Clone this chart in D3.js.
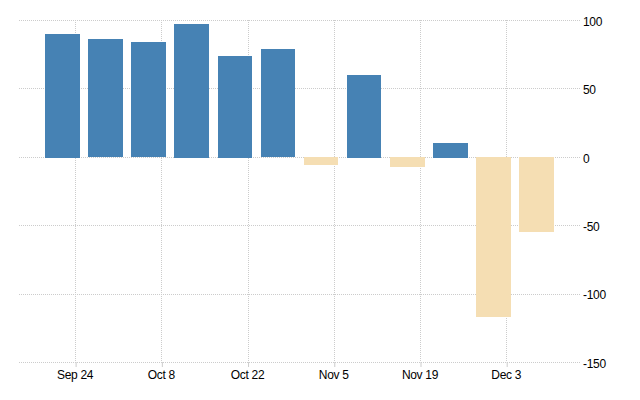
<!DOCTYPE html>
<html>
<head>
<meta charset="utf-8">
<script src="https://cdn.jsdelivr.net/npm/d3@7"></script>
<style>
  html, body { margin: 0; background: #fff; }
  text { font-family: "Liberation Sans", Arial, sans-serif; font-size: 12px; fill: #000; letter-spacing: -0.3px; }
</style>
</head>
<body>
<svg id="chart" width="640" height="400"></svg>
<script>
const weeks = ["2018-09-22","2018-09-29","2018-10-06","2018-10-13","2018-10-20","2018-10-27",
               "2018-11-03","2018-11-10","2018-11-17","2018-11-24","2018-12-01","2018-12-08"]
const values = [90.3, 86.6, 84.2, 97.6, 74.2, 79.3, -5.6, 60.4, -7, 10.6, -117, -54.6]
const yTicks = [100, 50, 0, -50, -100, -150]
const xTicks = ["2018-09-24","2018-10-08","2018-10-22","2018-11-05","2018-11-19","2018-12-03"]

const parse = d3.utcParse("%Y-%m-%d")
const svg = d3.select("svg#chart")

const plotLeft = 19, plotRight = 580, plotTop = 20.5, plotBottom = 362.5

const x = d3.scaleUtc()
            .domain([parse("2018-09-15"), parse("2018-12-15")])
            .range([plotLeft + 1.2, plotRight + 0.6])
const y = d3.scaleLinear()
            .domain([100, -150])
            .range([plotTop, plotBottom])

// grid
svg.append("g").selectAll("line.h")
    .data(yTicks)
    .join("line")
    .attr("class", "h")
    .attr("x1", plotLeft).attr("x2", plotRight)
    .attr("y1", d => Math.floor(y(d)) + 0.5)
    .attr("y2", d => Math.floor(y(d)) + 0.5)
    .attr("stroke", "#ccc")
    .attr("stroke-dasharray", "1,1")

// whole pixel ends, otherwise the dots smear into a solid line
svg.append("g").selectAll("line.v")
    .data(xTicks)
    .join("line")
    .attr("class", "v")
    .attr("x1", d => Math.floor(x(parse(d))) + 0.5)
    .attr("x2", d => Math.floor(x(parse(d))) + 0.5)
    .attr("y1", Math.floor(plotTop)).attr("y2", Math.floor(plotBottom))
    .attr("stroke", "#ccc")
    .attr("stroke-dasharray", "1,1")

// bars
const barLeft = i => Math.floor(x(parse(weeks[i])) - 17.65)
const barRight = i => Math.floor(x(parse(weeks[i])) + 16.9)

svg.append("g").selectAll("rect")
    .data(values)
    .join("rect")
    .attr("x", (d, i) => barLeft(i))
    .attr("width", (d, i) => barRight(i) - barLeft(i))
    .attr("y", d => Math.round(y(Math.max(d, 0))))
    .attr("height", d => Math.round(Math.abs(y(d) - y(0))))
    .attr("fill", d => d >= 0 ? "#4682b4" : "#f5deb3")

// axes
const xAxis = d3.axisBottom(x)
    .tickValues(xTicks.map(parse))
    .tickFormat(d3.utcFormat("%b %-d"))
    .tickSize(5)
    .tickPadding(3)
svg.append("g")
    .attr("transform", `translate(0,${Math.floor(plotBottom)})`)
    .call(xAxis)
    .call(g => g.select(".domain").remove())
    .call(g => g.selectAll("line").attr("stroke", "#ccc"))
    .call(g => g.selectAll("text").attr("dx", -1))

const yAxis = d3.axisRight(y)
    .tickValues(yTicks)
    .tickFormat(d => String(d))
    .tickSize(0)
    .tickPadding(3)
svg.append("g")
    .attr("transform", `translate(${plotRight},1)`)
    .call(yAxis)
    .call(g => g.select(".domain").remove())
</script>
</body>
</html>
